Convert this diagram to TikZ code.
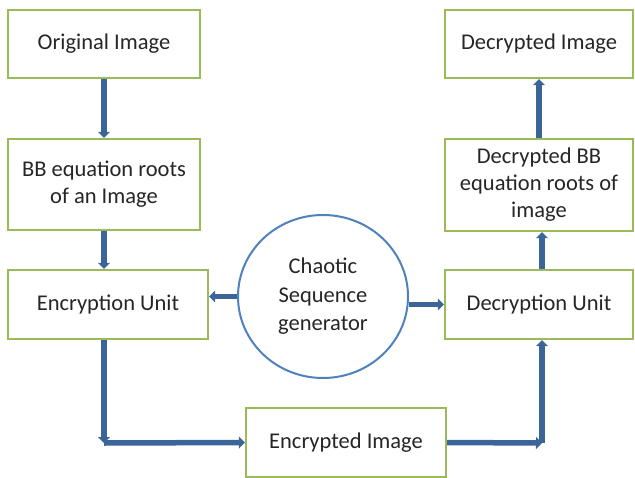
\documentclass[tikz,border=0pt]{standalone}
\usepackage{fontspec}
\setmainfont{Carlito}
\usetikzlibrary{arrows.meta,shapes.geometric,calc}
\definecolor{boxgreen}{HTML}{9BBB59}
\definecolor{circblue}{HTML}{4F81BD}
\definecolor{arrblue}{HTML}{3B6499}
\definecolor{txt}{HTML}{262626}
\begin{document}
\begin{tikzpicture}[x=1pt,y=-1pt,
  box/.style={draw=boxgreen,line width=2.4pt,fill=white,align=center,text=txt,
    font=\fontsize{22.5}{27}\selectfont,inner sep=0pt},
  arr/.style={draw=arrblue,line width=5.5pt,-{Triangle[width=12pt,length=6pt]}}]
\useasboundingbox (0,0) rectangle (635,477);
\node[box,minimum width=192pt,minimum height=68pt] (orig) at (104,44) {Original Image};
\node[box,minimum width=192pt,minimum height=91pt] (bb) at (104,184.5) {BB equation roots\\of an Image};
\node[box,minimum width=200pt,minimum height=69pt] (enc) at (108,304.5) {Encryption Unit};
\node[draw=circblue,line width=2pt,ellipse,minimum width=170pt,minimum height=163pt,inner sep=0pt,
  align=center,text=txt,font=\fontsize{22.5}{28.5}\selectfont] (gen) at (323,296.5) {Chaotic\\Sequence\\generator};
\node[box,minimum width=188pt,minimum height=69pt] (dec) at (539,304.5) {Decryption Unit};
\node[box,minimum width=188pt,minimum height=92pt] (dbb) at (539,185) {Decrypted BB\\equation roots of\\image};
\node[box,minimum width=188pt,minimum height=68pt] (dimg) at (539,44) {Decrypted Image};
\node[box,minimum width=200pt,minimum height=69pt] (encimg) at (346,442.5) {Encrypted Image};
\coordinate (c1) at (104,443);
\coordinate (c2) at (542,443);
\draw[arr] (orig) -- (bb);
\draw[arr] (bb.south) -- (bb.south |- enc.north);
\draw[arr] (gen.west) -- (gen.west -| enc.east);
\draw[arr] ([yshift=-8pt]gen.east) -- ([yshift=-8pt]gen.east -| dec.west);
\draw[arr] (c1 |- enc.south) -- (c1);
\draw[arr] (c1) -- (encimg.west);
\draw[arr] (encimg.east) -- (c2);
\draw[arr] (c2) -- (c2 |- dec.south);
\draw[arr] (c2 |- dec.north) -- (c2 |- dbb.south);
\draw[arr] (dbb) -- (dimg);
\end{tikzpicture}
\end{document}
